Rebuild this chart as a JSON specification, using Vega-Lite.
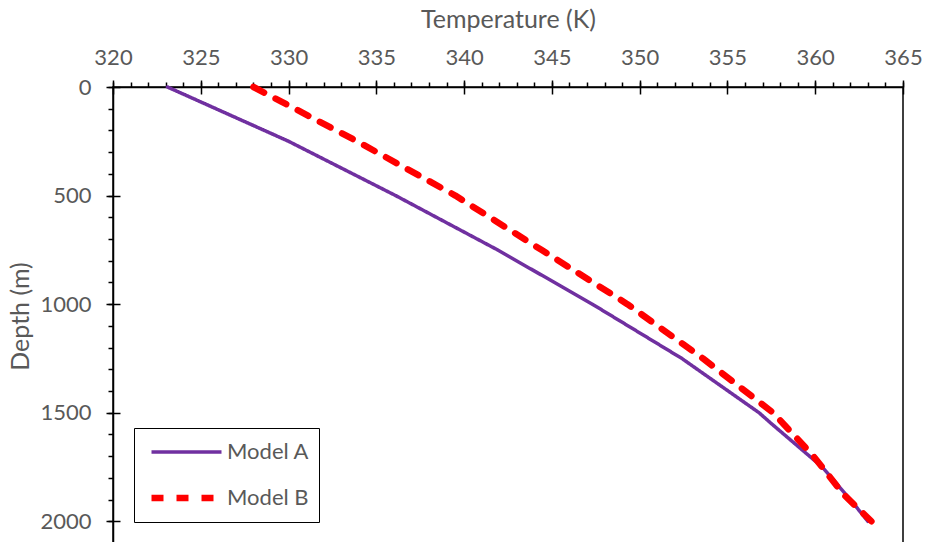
{
  "$schema": "https://vega.github.io/schema/vega-lite/v6.json",
  "width": 790,
  "height": 456,
  "autosize": {"type": "none"},
  "padding": {"left": 113, "top": 87, "right": 22, "bottom": 0},
  "background": "white",
  "config": {"view": {"stroke": "black", "strokeWidth": 1.5}, "font": "Lato"},
  "data": {
    "values": [
      {"series": "Model A", "D": 0, "T": 323.1},
      {"series": "Model A", "D": 250, "T": 330.0},
      {"series": "Model A", "D": 500, "T": 336.1},
      {"series": "Model A", "D": 750, "T": 341.9},
      {"series": "Model A", "D": 1000, "T": 347.3},
      {"series": "Model A", "D": 1250, "T": 352.4},
      {"series": "Model A", "D": 1500, "T": 356.8},
      {"series": "Model A", "D": 1550, "T": 357.5},
      {"series": "Model A", "D": 1750, "T": 360.4},
      {"series": "Model A", "D": 1900, "T": 362.0},
      {"series": "Model A", "D": 2000, "T": 363.0},
      {"series": "Model B", "D": 0, "T": 328.0},
      {"series": "Model B", "D": 250, "T": 333.9},
      {"series": "Model B", "D": 500, "T": 339.5},
      {"series": "Model B", "D": 750, "T": 344.4},
      {"series": "Model B", "D": 1000, "T": 349.3},
      {"series": "Model B", "D": 1250, "T": 353.6},
      {"series": "Model B", "D": 1500, "T": 357.6},
      {"series": "Model B", "D": 1700, "T": 359.9},
      {"series": "Model B", "D": 1875, "T": 361.6},
      {"series": "Model B", "D": 2000, "T": 363.2}
    ]
  },
  "layer": [
    {
      "mark": {"type": "line", "strokeCap": "round", "strokeJoin": "round"},
      "encoding": {
        "x": {
          "field": "T", "type": "quantitative",
          "scale": {"domain": [320, 365], "nice": false, "zero": false},
          "axis": {
            "orient": "top", "values": [320, 325, 330, 335, 340, 345, 350, 355, 360, 365], "format": "d",
            "grid": false, "tickSize": 7, "tickColor": "black", "tickWidth": 1.5,
            "domainColor": "black", "domainWidth": 1.5,
            "labelFont": "Lato", "labelFontSize": 22, "labelColor": "#595959", "labelPadding": 11,
            "labelFlush": false, "labelOverlap": false,
            "title": "Temperature (K)", "titleFont": "Lato", "titleFontSize": 25, "titleFontWeight": "normal",
            "titleColor": "#595959", "titleBaseline": "alphabetic", "titleY": -60, "titleX": 395
          }
        },
        "y": {
          "field": "D", "type": "quantitative",
          "scale": {"domain": [0, 2100], "nice": false, "zero": false, "reverse": true},
          "axis": {
            "orient": "left", "values": [0, 500, 1000, 1500, 2000], "format": "d",
            "grid": false, "tickSize": 7, "tickColor": "black", "tickWidth": 1.5,
            "domainColor": "black", "domainWidth": 1.5,
            "labelFont": "Lato", "labelFontSize": 22, "labelColor": "#595959", "labelPadding": 15,
            "labelOverlap": false,
            "title": "Depth (m)", "titleFont": "Lato", "titleFontSize": 25, "titleFontWeight": "normal",
            "titleColor": "#595959", "titleBaseline": "alphabetic", "titleAngle": -90, "titleX": -85, "titleY": 229
          }
        },
        "color": {
          "field": "series", "type": "nominal",
          "scale": {"domain": ["Model A", "Model B"], "range": ["#7030A0", "#FF0000"]},
          "legend": {
            "orient": "none", "legendX": 21, "legendY": 341, "title": null,
            "strokeColor": "black", "fillColor": "white", "padding": 9,
            "symbolType": "stroke", "symbolSize": 4900, "clipHeight": 30, "rowPadding": 16,
            "symbolOffset": 5, "labelOffset": 2,
            "labelFont": "Lato", "labelFontSize": 22, "labelColor": "#595959"
          }
        },
        "strokeDash": {
          "field": "series", "type": "nominal",
          "scale": {"domain": ["Model A", "Model B"], "range": [[1, 0], [12, 13]]},
          "legend": {
            "orient": "none", "legendX": 21, "legendY": 341, "title": null,
            "strokeColor": "black", "fillColor": "white", "padding": 9,
            "symbolType": "stroke", "symbolSize": 4900, "clipHeight": 30, "rowPadding": 16,
            "symbolOffset": 5, "labelOffset": 2,
            "labelFont": "Lato", "labelFontSize": 22, "labelColor": "#595959"
          }
        },
        "strokeWidth": {
          "field": "series", "type": "nominal",
          "scale": {"domain": ["Model A", "Model B"], "range": [3.5, 6.5]},
          "legend": {
            "orient": "none", "legendX": 21, "legendY": 341, "title": null,
            "strokeColor": "black", "fillColor": "white", "padding": 9,
            "symbolType": "stroke", "symbolSize": 4900, "clipHeight": 30, "rowPadding": 16,
            "symbolOffset": 5, "labelOffset": 2,
            "labelFont": "Lato", "labelFontSize": 22, "labelColor": "#595959"
          }
        },
        "order": {"field": "D", "type": "quantitative"}
      }
    },
    {
      "mark": {"type": "point", "opacity": 0},
      "encoding": {
        "x": {
          "field": "T", "type": "quantitative",
          "axis": {
            "orient": "top", "values": [320,321,322,323,324,325,326,327,328,329,330,331,332,333,334,335,336,337,338,339,340,341,342,343,344,345,346,347,348,349,350,351,352,353,354,355,356,357,358,359,360,361,362,363,364,365],
            "grid": false, "labels": false, "domain": false, "title": null,
            "tickSize": 5, "tickColor": "black", "tickWidth": 1.5
          }
        },
        "y": {
          "field": "D", "type": "quantitative",
          "axis": {
            "orient": "left", "values": [0,100,200,300,400,500,600,700,800,900,1000,1100,1200,1300,1400,1500,1600,1700,1800,1900,2000,2100],
            "grid": false, "labels": false, "domain": false, "title": null,
            "tickSize": 5, "tickColor": "black", "tickWidth": 1.5
          }
        }
      }
    },
    {
      "mark": {"type": "point", "opacity": 0},
      "encoding": {
        "x": {
          "field": "T", "type": "quantitative",
          "axis": {
            "orient": "top", "values": [320, 325, 330, 335, 340, 345, 350, 355, 360, 365],
            "grid": false, "labels": false, "domain": false, "title": null,
            "tickSize": -7, "tickColor": "black", "tickWidth": 1.5
          }
        },
        "y": {
          "field": "D", "type": "quantitative",
          "axis": {
            "orient": "left", "values": [0, 500, 1000, 1500, 2000],
            "grid": false, "labels": false, "domain": false, "title": null,
            "tickSize": -7, "tickColor": "black", "tickWidth": 1.5
          }
        }
      }
    }
  ],
  "resolve": {"axis": {"x": "independent", "y": "independent"}}
}
